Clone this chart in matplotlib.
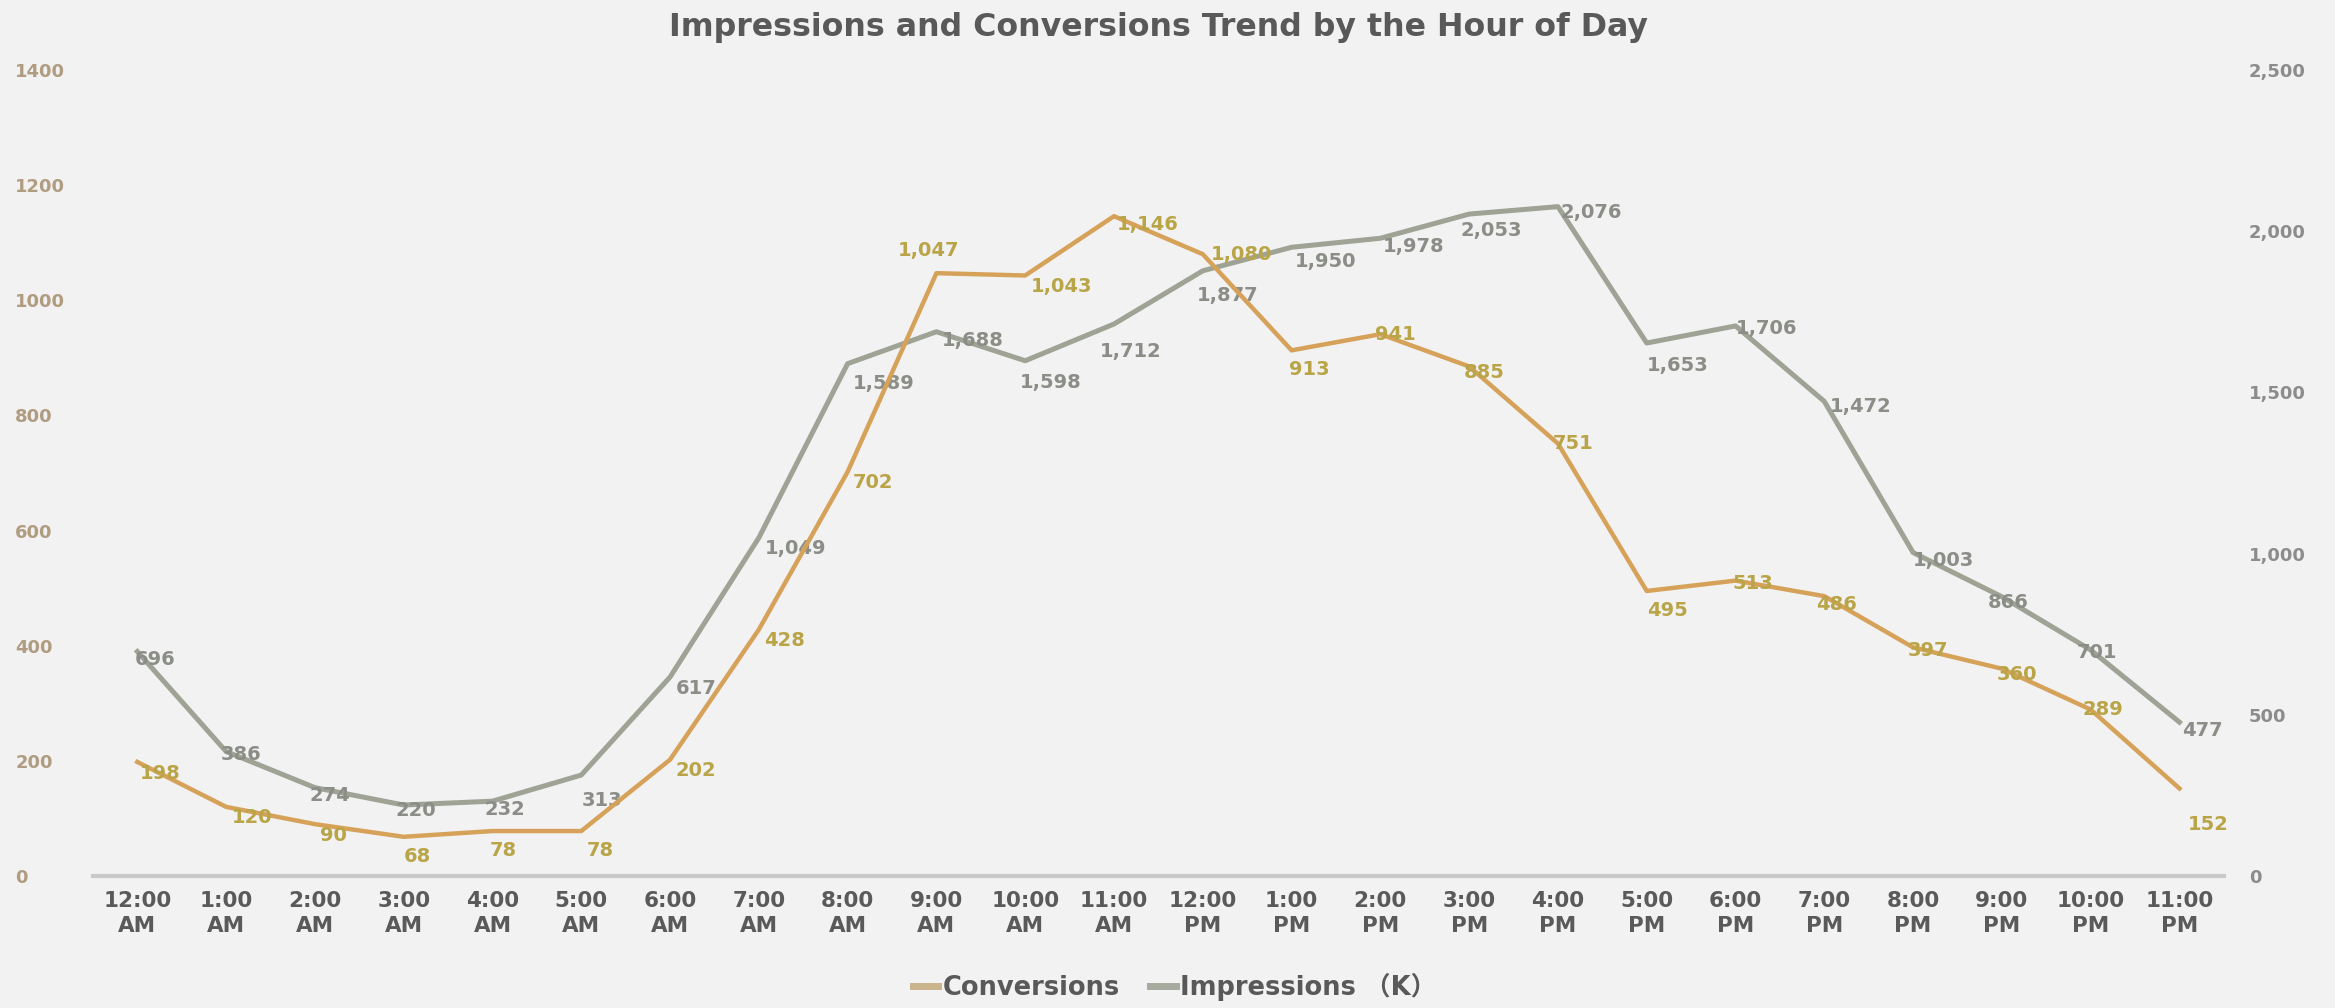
import matplotlib
matplotlib.use("Agg")
import matplotlib.pyplot as plt
from matplotlib.ticker import FixedLocator, FuncFormatter

plt.rcParams['font.family'] = ['DejaVu Sans', 'Noto Sans CJK SC']
plt.rcParams['font.weight'] = 'bold'

# Hour-of-day categories
hours = ["12:00\nAM", "1:00\nAM", "2:00\nAM", "3:00\nAM", "4:00\nAM", "5:00\nAM",
         "6:00\nAM", "7:00\nAM", "8:00\nAM", "9:00\nAM", "10:00\nAM", "11:00\nAM",
         "12:00\nPM", "1:00\nPM", "2:00\nPM", "3:00\nPM", "4:00\nPM", "5:00\nPM",
         "6:00\nPM", "7:00\nPM", "8:00\nPM", "9:00\nPM", "10:00\nPM", "11:00\nPM"]

conversions = [198, 120, 90, 68, 78, 78, 202, 428, 702, 1047, 1043, 1146,
               1080, 913, 941, 885, 751, 495, 513, 486, 397, 360, 289, 152]

impressions_k = [696, 386, 274, 220, 232, 313, 617, 1049, 1589, 1688, 1598, 1712,
                 1877, 1950, 1978, 2053, 2076, 1653, 1706, 1472, 1003, 866, 701, 477]

left_ticks = [0, 200, 400, 600, 800, 1000, 1200, 1400]
right_ticks = [0, 500, 1000, 1500, 2000, 2500]

BG = '#f2f2f2'
CONV_LINE = '#d6a25a'
CONV_TEXT = '#b9a548'
IMPR_LINE = '#9ea395'
IMPR_TEXT = '#8b8d87'

fig = plt.figure(figsize=(23.35, 10.08), dpi=100, facecolor=BG)
ax = fig.add_axes([0.0398, 0.131, 0.9126, 0.7996])
ax2 = ax.twinx()
ax.set_zorder(ax2.get_zorder() + 1)
ax.patch.set_visible(False)
ax2.set_facecolor(BG)

x = list(range(len(hours)))

l2, = ax2.plot(x, impressions_k, color=IMPR_LINE, lw=3.6, solid_joinstyle='round',
               label='Impressions （K）')
l1, = ax.plot(x, conversions, color=CONV_LINE, lw=3.2, solid_joinstyle='round',
              label='Conversions')

ax.set_xlim(-0.5, len(hours) - 0.5)
ax.set_ylim(0, 1400)
ax2.set_ylim(0, 2500)

ax.xaxis.set_major_locator(FixedLocator(x))
ax.set_xticklabels(hours, fontsize=15.5, color='#5a5a5a', fontweight='bold',
                   linespacing=1.3)
ax.tick_params(axis='x', length=0, pad=11)

ax.yaxis.set_major_locator(FixedLocator(left_ticks))
ax.yaxis.set_major_formatter(FuncFormatter(lambda v, p: f"{int(v)}"))
ax.tick_params(axis='y', length=0, pad=56, labelsize=13, labelcolor='#b09c80')
for t in ax.get_yticklabels():
    t.set_horizontalalignment('left')
    t.set_fontweight('bold')

ax2.yaxis.set_major_locator(FixedLocator(right_ticks))
ax2.yaxis.set_major_formatter(FuncFormatter(lambda v, p: f"{int(v):,}"))
ax2.tick_params(axis='y', length=0, pad=18, labelsize=13, labelcolor='#8c8c8c')
for t in ax2.get_yticklabels():
    t.set_fontweight('bold')

for a in (ax, ax2):
    for side in ('top', 'left', 'right'):
        a.spines[side].set_visible(False)
    a.spines['bottom'].set_color('#c9c9c9')
    a.spines['bottom'].set_linewidth(3)
ax2.spines['bottom'].set_visible(False)

# Data labels: to the right of each point by default, a few nudged
conv_offsets = {0: (2, -8), 3: (0, -14), 4: (-2, -14), 5: (4, -14), 9: (-6, 16),
                11: (2, -6), 12: (6, 0), 13: (-2, -14), 14: (-4, 0), 15: (-4, -4),
                16: (-4, 0), 17: (0, -14), 18: (-2, -2), 19: (-6, -6), 20: (-4, -2),
                21: (-4, -4), 22: (-6, 0), 23: (6, -26)}
impr_offsets = {0: (-2, -6), 1: (-4, -2), 2: (-4, -6), 3: (-6, -4), 4: (-6, -6),
                5: (0, -18), 8: (4, -14), 9: (4, -6), 10: (-4, -16), 11: (-10, -20),
                12: (-4, -18), 13: (2, -10), 14: (2, -6), 15: (-6, -12), 16: (2, -4),
                17: (0, -16), 18: (0, -2), 19: (4, -4), 20: (0, -6), 21: (-10, -4),
                22: (-10, -2), 23: (2, -6)}

for i, v in enumerate(conversions):
    dx, dy = conv_offsets.get(i, (4, -8))
    ax.annotate(f"{v:,}", (i, v), xytext=(dx, dy), textcoords='offset points',
                ha='left' if i != 9 else 'center', va='center', fontsize=14,
                fontweight='bold', color=CONV_TEXT, zorder=5)

for i, v in enumerate(impressions_k):
    dx, dy = impr_offsets.get(i, (4, -8))
    ax2.annotate(f"{v:,}", (i, v), xytext=(dx, dy), textcoords='offset points',
                 ha='left', va='center', fontsize=14, fontweight='bold',
                 color=IMPR_TEXT, zorder=5)

fig.text(0.496, 0.973, "Impressions and Conversions Trend by the Hour of Day",
         ha='center', va='center', fontsize=22.8, fontweight='bold', color='#595959')

leg = fig.legend([l1, l2], ['Conversions', 'Impressions （K）'], loc='center',
                 bbox_to_anchor=(0.503, 0.021), ncol=2, frameon=False,
                 fontsize=18.5, handlelength=1.0, handletextpad=0.15,
                 columnspacing=1.2)
for t in leg.get_texts():
    t.set_color('#595959')
    t.set_fontweight('bold')
leg.legend_handles[0].set_color('#c9b48c')
leg.legend_handles[1].set_color('#a7aa9f')
for h in leg.legend_handles:
    h.set_linewidth(5)

fig.savefig("out.png", dpi=100, facecolor=BG)
